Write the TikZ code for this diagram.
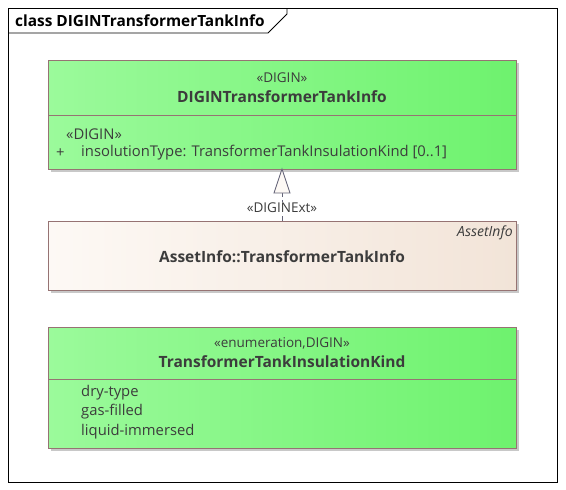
\documentclass[tikz,border=0pt]{standalone}
\usepackage{fontspec}
\setmainfont{Open Sans}
\usetikzlibrary{arrows.meta}
\definecolor{gL}{RGB}{155,250,155}
\definecolor{gR}{RGB}{110,242,110}
\definecolor{bL}{RGB}{253,249,245}
\definecolor{bR}{RGB}{242,228,216}
\definecolor{bord}{RGB}{150,115,115}
\definecolor{txt}{RGB}{60,60,60}
\definecolor{shad}{RGB}{200,200,200}
\definecolor{arr}{RGB}{100,100,120}
\tikzset{
  cls/.style={draw=bord, line width=0.8pt},
  stereo/.style={text=txt, font=\fontsize{13.5}{15}\selectfont, inner sep=0pt},
  cname/.style={text=txt, font=\fontsize{15.5}{17}\selectfont\bfseries, inner sep=0pt},
  attr/.style={text=txt, font=\fontsize{14.8}{16}\selectfont, inner sep=0pt, anchor=west},
}
\begin{document}
\begin{tikzpicture}[x=1pt,y=-1pt]
\useasboundingbox (0,0) rectangle (566,490);
% frame
\draw[line width=0.9pt, black] (8,8) rectangle (557,482);
\draw[line width=0.8pt, black] (8,33) -- (268,33) -- (287,14) -- (287,8);
\node[anchor=west, inner sep=0pt, font=\fontsize{15.4}{17}\selectfont\bfseries] (title) at (15,21) {class DIGINTransformerTankInfo};
% box 1
\fill[shad] (51,63) rectangle (519,172);
\shade[left color=gL, right color=gR] (48,60) rectangle (516,169);
\draw[cls] (48,60) rectangle (516,169);
\draw[cls] (48,115) -- (516,115);
\coordinate (b1bot) at (282,169);
\node[stereo] (s1) at (282,78) {«DIGIN»};
\node[cname] (n1) at (282,97) {DIGINTransformerTankInfo};
\node[attr] (a1s) at (66,134) {«DIGIN»};
\node[attr] (a1p) at (56,153) {+};
\node[attr] (a1) at (81,153) {insolutionType: TransformerTankInsulationKind [0..1]};
% box 2
\fill[shad] (51,224) rectangle (519,293);
\shade[left color=bL, right color=bR] (48,221) rectangle (516,290);
\draw[cls] (48,221) rectangle (516,290);
\coordinate (b2top) at (282,221);
\node[stereo, anchor=east, font=\fontsize{14}{15}\selectfont\itshape] (pk) at (513,233) {AssetInfo};
\node[cname] (n2) at (282,257) {AssetInfo::TransformerTankInfo};
% generalization
\coordinate (tri) at (282,193);
\draw[arr, line width=0.8pt, dashed, dash pattern=on 5pt off 3pt] (b2top) -- (tri);
\draw[arr, line width=0.8pt, fill=bL] (b1bot) -- (274,193) -- (290,193) -- cycle;
\node[stereo, fill=white, inner sep=1pt] (lbl) at (282,208) {«DIGINExt»};
% box 3
\fill[shad] (51,330) rectangle (519,451);
\shade[left color=gL, right color=gR] (48,327) rectangle (516,448);
\draw[cls] (48,327) rectangle (516,448);
\draw[cls] (48,379) -- (516,379);
\node[stereo] (s3) at (282,343) {«enumeration,DIGIN»};
\node[cname] (n3) at (282,362) {TransformerTankInsulationKind};
\node[attr] (l1) at (81,393) {dry-type};
\node[attr] (l2) at (81,412) {gas-filled};
\node[attr] (l3) at (81,432) {liquid-immersed};
\end{tikzpicture}
\end{document}
